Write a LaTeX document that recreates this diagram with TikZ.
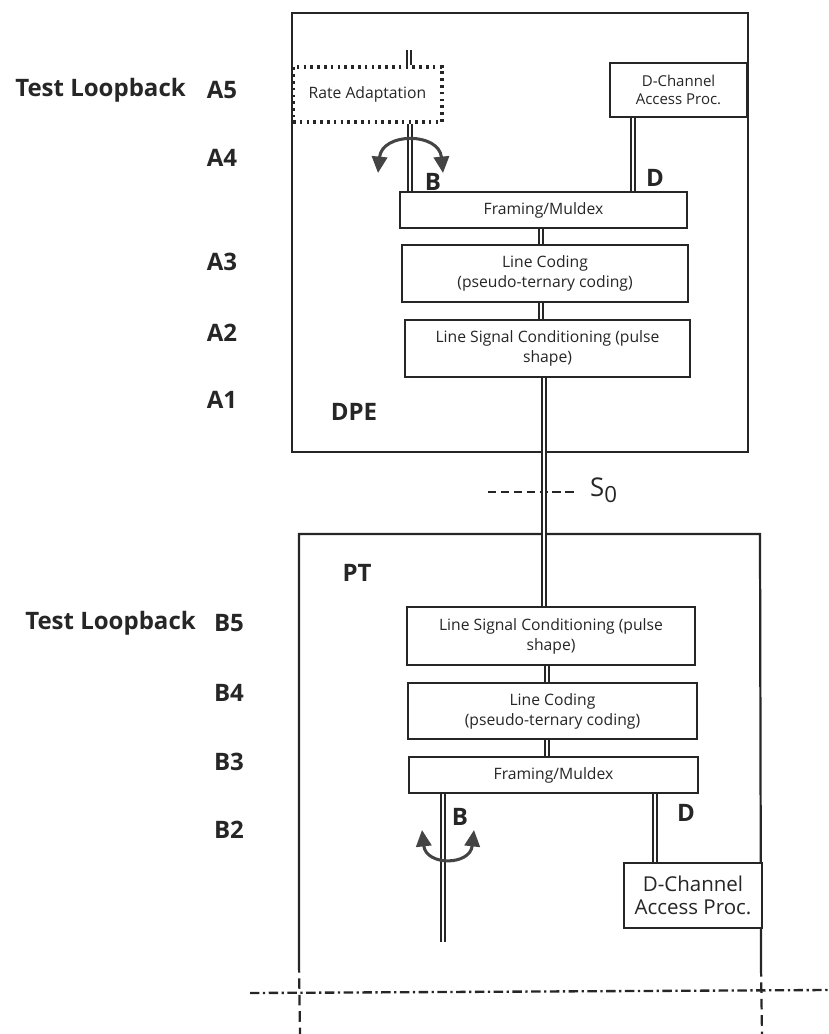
\documentclass[tikz,border=0pt]{standalone}
\usepackage{fontspec}
\setmainfont{Open Sans}
\usetikzlibrary{arrows.meta}
\definecolor{inkc}{HTML}{262626}
\definecolor{arrc}{HTML}{444444}
\newcommand\pxu{0.03cm}
\begin{document}
\begin{tikzpicture}[x=0.03cm,y=-0.03cm,
  frame/.style={draw=inkc, line width=1.9pt},
  blk/.style={draw=inkc, line width=1.9pt, fill=white, inner sep=0pt, align=center,
              text=inkc, font=\fontsize{13.4}{17}\selectfont},
  dotbox/.style={draw=inkc, line width=2.6pt, dash pattern=on 2.2pt off 3.6pt, inner sep=0pt,
              align=center, text=inkc, font=\fontsize{13.4}{17}\selectfont},
  wire/.style={draw=inkc, line width=1.6pt, double=white, double distance=2.0pt},
  lbl/.style={font=\bfseries\fontsize{20.5}{24}\selectfont, text=inkc, inner sep=0pt},
  loop/.style={draw=arrc, line width=2.6pt,
              {Triangle[width=13pt,length=14pt]}-{Triangle[width=13pt,length=14pt]}},
]
\useasboundingbox (0,0) rectangle (828,1034);

% ---------- DPE ----------
\node[frame, inner sep=0pt, minimum width=456*\pxu, minimum height=439*\pxu] (dpe) at (520,232.5) {};
\node[dotbox, minimum width=149*\pxu, minimum height=55*\pxu] (ra) at (367.5,94.5) {Rate Adaptation};
\node[blk, font=\fontsize{12.8}{15.5}\selectfont, minimum width=137*\pxu, minimum height=54*\pxu] (dca) at (678.5,90) {D-Channel\\Access Proc.};
\node[blk, minimum width=287*\pxu, minimum height=36*\pxu] (fm1) at (543.5,210) {Framing/Muldex};
\node[blk, minimum width=286*\pxu, minimum height=57*\pxu] (lc1) at (545,273.5) {Line Coding\\(pseudo-ternary coding)};
\node[blk, minimum width=285*\pxu, minimum height=57*\pxu] (lsc1) at (547.5,348.5) {Line Signal Conditioning (pulse\\shape)};
\node[lbl] (dpel) at (354,412) {DPE};

% ---------- PT ----------
\coordinate (ptbl) at (299,962);
\coordinate (pttr) at (760,534);
\coordinate (ptbr) at (761,966);
\coordinate (ptl) at (300,1034);
\coordinate (ptr) at (762,1034);
\draw[frame] (ptbl) |- (pttr) -- (ptbr);
\draw[frame, dash pattern=on 9pt off 5pt] (ptbl) -- (ptl);
\draw[frame, dash pattern=on 9pt off 5pt] (ptbr) -- (ptr);
\node[blk, minimum width=288*\pxu, minimum height=58*\pxu] (lsc2) at (551,636) {Line Signal Conditioning (pulse\\shape)};
\node[blk, minimum width=289*\pxu, minimum height=56*\pxu] (lc2) at (552.5,711) {Line Coding\\(pseudo-ternary coding)};
\node[blk, minimum width=289*\pxu, minimum height=36*\pxu] (fm2) at (553.5,775) {Framing/Muldex};
\node[blk, font=\fontsize{17.5}{20}\selectfont, minimum width=138*\pxu, minimum height=65*\pxu] (dca2) at (693,895.5) {D-Channel\\Access Proc.};
\node[lbl] (ptn) at (357,573) {PT};

% ---------- reference point S0 ----------
\coordinate (s0a) at (488,492);
\coordinate (s0b) at (577,492);
\draw[inkc, line width=1.8pt, dash pattern=on 7pt off 4pt] (s0a) -- (s0b);
\node[anchor=west, text=inkc, inner sep=0pt, font=\fontsize{22}{24}\selectfont] (s0) at (590,490)
  {S\raisebox{-5pt}{\fontsize{19}{20}\selectfont 0}};

% ---------- interface line ----------
\coordinate (iflA) at (250,993);
\coordinate (iflB) at (828,990);
\draw[inkc, line width=2pt, dash pattern=on 8pt off 3pt on 2pt off 3pt] (iflA) -- (iflB);

% ---------- double-line connections ----------
\coordinate (btop) at (409,50);
\coordinate (bx) at (410,0);
\coordinate (dx) at (633,0);
\coordinate (mx) at (541,0);
\coordinate (mx2) at (544,0);
\coordinate (mx3) at (547,0);
\coordinate (bx2) at (443,0);
\coordinate (bend) at (443,942);
\coordinate (dx2) at (655,0);
\draw[wire] (btop) -- (btop |- ra.north);
\draw[wire] (ra.south -| bx) -- (fm1.north -| bx);
\draw[wire] (dca.south -| dx) -- (fm1.north -| dx);
\draw[wire] (fm1.south -| mx) -- (lc1.north -| mx);
\draw[wire] (lc1.south -| mx) -- (lsc1.north -| mx);
\draw[wire] (lsc1.south -| mx2) -- (lsc2.north -| mx2);
\draw[wire] (lsc2.south -| mx3) -- (lc2.north -| mx3);
\draw[wire] (lc2.south -| mx3) -- (fm2.north -| mx3);
\draw[wire] (fm2.south -| bx2) -- (bend);
\draw[wire] (fm2.south -| dx2) -- (dca2.north -| dx2);

% ---------- loopback arrows ----------
\coordinate (la1) at (378,173);
\coordinate (la2) at (443,173);
\draw[loop] (la1) .. controls (382,132) and (439,132) .. (la2);
\coordinate (lb1) at (422,830);
\coordinate (lb2) at (474,830);
\draw[loop] (lb1) .. controls (426,866) and (470,866) .. (lb2);

% ---------- channel labels ----------
\node[lbl] (bA) at (433,182) {B};
\node[lbl] (dA) at (655,178) {D};
\node[lbl] (bB) at (460,817) {B};
\node[lbl] (dB) at (686,813) {D};

% ---------- loopback level labels ----------
\node[lbl, anchor=east] (tla) at (186,90) {Test Loopback};
\node[lbl] (a5) at (222,90) {A5};
\node[lbl] (a4) at (222,158) {A4};
\node[lbl] (a3) at (222,262) {A3};
\node[lbl] (a2) at (222,333) {A2};
\node[lbl] (a1) at (222,400) {A1};
\node[lbl, anchor=east] (tlb) at (196,623) {Test Loopback};
\node[lbl] (b5) at (229,623) {B5};
\node[lbl] (b4) at (229,693) {B4};
\node[lbl] (b3) at (229,762) {B3};
\node[lbl] (b2) at (229,830) {B2};
\end{tikzpicture}
\end{document}
